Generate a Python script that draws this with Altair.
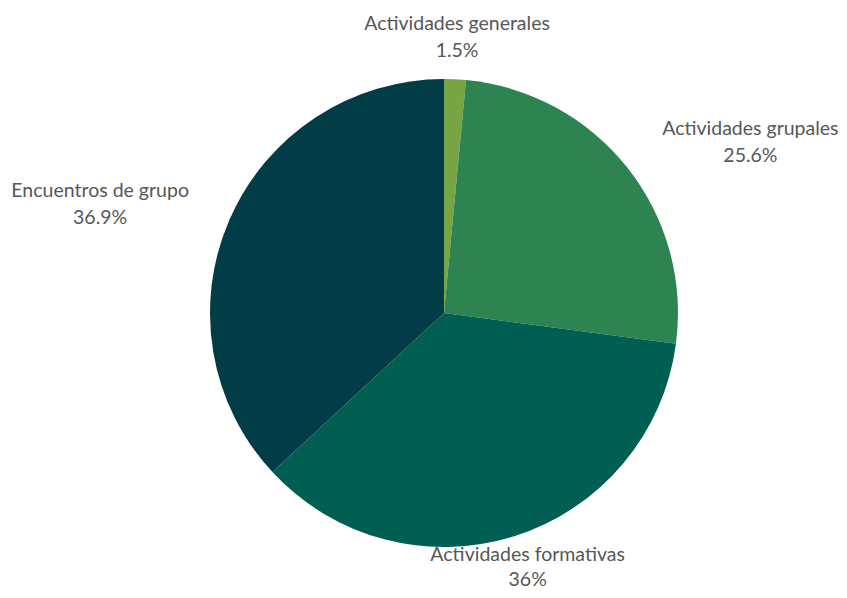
import altair as alt
import pandas as pd

categories = ["Actividades generales", "Actividades grupales", "Actividades formativas", "Encuentros de grupo"]
values = [1.5, 25.6, 36.0, 36.9]
labels = ["1.5%", "25.6%", "36%", "36.9%"]
colors = ["#79a443", "#2e8451", "#015e52", "#023c47"]

df = pd.DataFrame({"cat": categories, "val": values, "lab": labels,
                   "order": list(range(len(categories)))})
df["txt"] = [[c, l] for c, l in zip(categories, labels)]

CX, CY, R = 436, 305, 234

base = alt.Chart(df).encode(
    theta=alt.Theta("val:Q", stack=True, scale=alt.Scale(range=[0, 6.283185307])),
    order=alt.Order("order:Q"),
)

pie = base.mark_arc(outerRadius=R, stroke=None).encode(
    color=alt.Color("cat:N", scale=alt.Scale(domain=categories, range=colors), legend=None),
    x=alt.value(CX), y=alt.value(CY),
)

label_cfg = {
    "Actividades generales": dict(radius=277, dx=0, dy=-12, lh=27),
    "Actividades grupales": dict(radius=352, dx=31, dy=35, lh=27),
    "Actividades formativas": dict(radius=276, dx=0, dy=-21, lh=25),
    "Encuentros de grupo": dict(radius=361, dx=-13, dy=22, lh=27),
}

texts = []
for c in categories:
    cfg = label_cfg[c]
    t = base.mark_text(
        radius=cfg["radius"], dx=cfg["dx"], dy=cfg["dy"],
        font="Lato", fontSize=19.5, color="#575757", align="center", baseline="middle",
        lineHeight=cfg["lh"],
    ).encode(
        text="txt",
        x=alt.value(CX), y=alt.value(CY),
        opacity=alt.condition(alt.datum.cat == c, alt.value(1), alt.value(0)),
    )
    texts.append(t)

chart = alt.layer(pie, *texts).properties(
    width=831, height=582, autosize=alt.AutoSizeParams(type="none"), padding=0
).configure_view(stroke=None)

chart.save("out.html", embed_options={"renderer": "svg", "actions": False})
